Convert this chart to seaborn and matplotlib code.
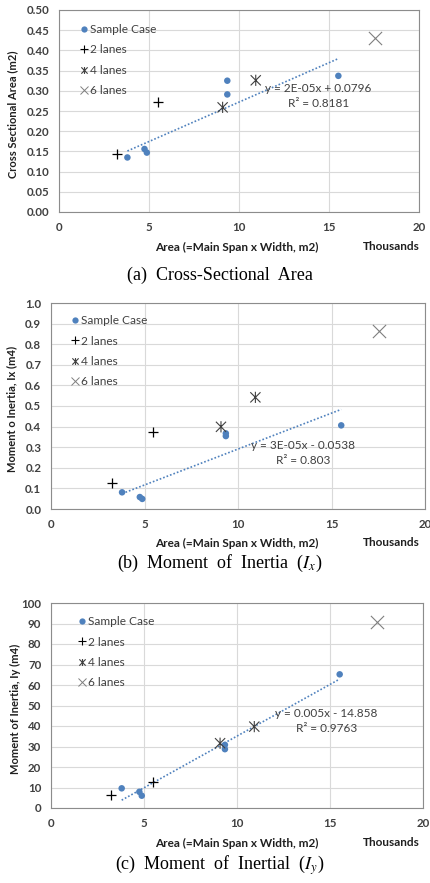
import numpy as np
import matplotlib
matplotlib.use('Agg')
import matplotlib.pyplot as plt
import seaborn as sns
from matplotlib.path import Path
from matplotlib.lines import Line2D
from matplotlib.ticker import FormatStrFormatter

# Data (x in thousands of m2)
area_sample = [3.80, 4.75, 4.88, 9.35, 9.35, 15.52]
area_2lane = [3.24, 5.48]
area_4lane = [9.09, 10.93]
area_6lane = [17.55]

cs_sample = [0.135, 0.156, 0.147, 0.325, 0.291, 0.337]
cs_2lane = [0.144, 0.273]
cs_4lane = [0.259, 0.326]
cs_6lane = [0.430]

ix_sample = [0.081, 0.058, 0.049, 0.367, 0.354, 0.406]
ix_2lane = [0.125, 0.376]
ix_4lane = [0.399, 0.542]
ix_6lane = [0.865]

iy_sample = [9.6, 7.9, 6.0, 30.8, 28.7, 65.2]
iy_2lane = [6.3, 12.7]
iy_4lane = [31.6, 39.7]
iy_6lane = [90.5]

legend_labels = ['Sample Case', '2 lanes', '4 lanes', '6 lanes']

sns.set_theme(style='white')
plt.rcParams['font.family'] = ['Lato', 'DejaVu Sans']
plt.rcParams['mathtext.fontset'] = 'stix'

BLUE = '#4F81BD'
DARK = '#404040'
W, H = 430, 883

# Excel style asterisk: X with a vertical bar
ASTERISK = Path([(-1, -1), (1, 1), (-1, 1), (1, -1), (0, -1.1), (0, 1.1)],
                [Path.MOVETO, Path.LINETO] * 3)

fig = plt.figure(figsize=(W / 100, H / 100), dpi=100)


def fx(px):
    return px / W


def fy(py):
    return 1 - py / H


panels = [
    dict(ys=(cs_sample, cs_2lane, cs_4lane, cs_6lane), box=(59, 10, 419, 212),
         ylim=(0, 0.5), ystep=0.05, fmt='%.2f', ylabel='Cross Sectional Area (m2)', ylab_x=13,
         eq='y = 2E-05x + 0.0796\nR² = 0.8181', eq_xy=(14.4, 0.286),
         leg=(0.057, 0.93), xlab_y=247, cap_y=275,
         caption='(a)  Cross-Sectional  Area'),
    dict(ys=(ix_sample, ix_2lane, ix_4lane, ix_6lane), box=(51, 303, 425, 509),
         ylim=(0, 1.0), ystep=0.1, fmt='%.1f', ylabel='Moment o Inertia, Ix (m4)', ylab_x=12,
         eq='y = 3E-05x - 0.0538\nR² = 0.803', eq_xy=(13.5, 0.273),
         leg=(0.052, 0.94), xlab_y=543, cap_y=563,
         caption=r'(b)  Moment  of  Inertia  ($I_x$)'),
    dict(ys=(iy_sample, iy_2lane, iy_4lane, iy_6lane), box=(51, 603, 423, 808),
         ylim=(0, 100), ystep=10, fmt='%d', ylabel='Moment of Inertia, Iy (m4)', ylab_x=15,
         eq='y = 0.005x - 14.858\nR² = 0.9763', eq_xy=(14.8, 42.3),
         leg=(0.071, 0.935), xlab_y=843, cap_y=865,
         caption=r'(c)  Moment  of  Inertial  ($I_y$)'),
]

for p in panels:
    l, t, r, b = p['box']
    ax = fig.add_axes([fx(l), fy(b), fx(r - l), (b - t) / H])
    y_s, y_2, y_4, y_6 = p['ys']

    # linear trendline over the sample cases
    sns.regplot(x=area_sample, y=y_s, scatter=False, ci=None, ax=ax,
                line_kws=dict(color=BLUE, ls=(0, (1, 1.2)), lw=1.2))
    sns.scatterplot(x=area_sample, y=y_s, ax=ax, color=BLUE, s=22, edgecolor='none', zorder=3)
    sns.scatterplot(x=area_2lane, y=y_2, ax=ax, marker='+', color='black', s=55, linewidth=0.9, zorder=3)
    sns.scatterplot(x=area_4lane, y=y_4, ax=ax, marker=ASTERISK, s=65, facecolor='none',
                    edgecolor=DARK, linewidth=0.8, zorder=3)
    sns.scatterplot(x=area_6lane, y=y_6, ax=ax, marker='x', color='#7F7F7F', s=90, linewidth=0.8, zorder=3)

    ax.set_xlim(0, 20)
    ax.set_ylim(*p['ylim'])
    ax.set_xticks(range(0, 21, 5))
    ax.set_yticks(np.arange(p['ylim'][0], p['ylim'][1] + p['ystep'] / 2, p['ystep']))
    ax.yaxis.set_major_formatter(FormatStrFormatter(p['fmt']))
    ax.tick_params(length=0, labelsize=8.3, colors=DARK, pad=7)
    for lab in ax.get_xticklabels() + ax.get_yticklabels():
        lab.set_fontweight('bold')
    ax.grid(True, color='#D9D9D9', lw=0.8)
    ax.set_axisbelow(True)
    for sp in ax.spines.values():
        sp.set_visible(True)
        sp.set_color('#8C8C8C')
        sp.set_linewidth(0.8)
    ax.set_xlabel('')
    ax.set_ylabel('')

    ax.text(*p['eq_xy'], p['eq'], ha='center', va='center', fontsize=8.5, color=DARK, linespacing=1.45)

    handles = [
        Line2D([], [], ls='', marker='o', color=BLUE, markersize=4.5, mec='none'),
        Line2D([], [], ls='', marker='+', color='black', markersize=6, mew=0.8),
        Line2D([], [], ls='', marker=ASTERISK, mfc='none', mec=DARK, markersize=5, mew=0.8),
        Line2D([], [], ls='', marker='x', color='#7F7F7F', markersize=5.5, mew=0.7),
    ]
    ax.legend(handles, legend_labels, loc='upper left', bbox_to_anchor=p['leg'], frameon=False,
              fontsize=8.6, labelspacing=0.78, handletextpad=0.1, handlelength=0.8,
              borderaxespad=0, borderpad=0, labelcolor=DARK)

    fig.text(fx(237), fy(p['xlab_y']), 'Area (=Main Span x Width, m2)', ha='center', va='center',
             fontsize=8.5, fontweight='bold', color='#1F1F1F')
    fig.text(fx(391), fy(p['xlab_y']), 'Thousands', ha='center', va='center',
             fontsize=8.5, fontweight='bold', color='#1F1F1F')
    fig.text(fx(p['ylab_x']), fy((t + b) / 2 + 3), p['ylabel'], ha='center', va='center', rotation=90,
             fontsize=8, fontweight='bold', color='#1F1F1F')
    fig.text(fx(220), fy(p['cap_y']), p['caption'], ha='center', va='center', fontsize=13,
             family='Liberation Serif', color='black')

fig.savefig('out.png', dpi=100, facecolor='white')
